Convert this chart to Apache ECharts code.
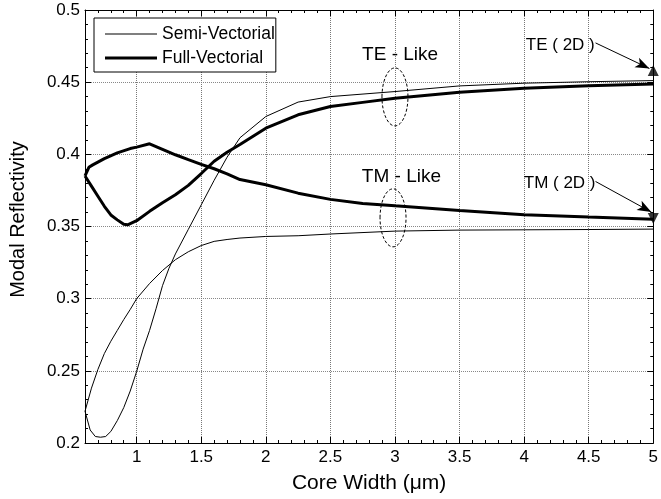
<!DOCTYPE html>
<html>
<head>
<meta charset="utf-8">
<script src="https://cdn.jsdelivr.net/npm/echarts@6/dist/echarts.min.js"></script>
<style>html,body{margin:0;padding:0;background:#fff}#c{width:661px;height:499px}</style>
</head>
<body>
<div id="c"></div>
<script>
// ---- data (x = core width in µm, y = modal reflectivity) ----
const xTickValues = [1, 1.5, 2, 2.5, 3, 3.5, 4, 4.5, 5];

const semiTE = [[0.6,0.222],[0.64,0.209],[0.68,0.2045],[0.72,0.204],[0.76,0.2045],[0.8,0.208],[0.85,0.2155],[0.9,0.2245],[0.95,0.236],[1.0,0.2496],[1.05,0.265],[1.1,0.278],[1.15,0.293],[1.2,0.309],[1.25,0.321],[1.3,0.331],[1.4,0.348],[1.5,0.365],[1.6,0.382],[1.7,0.398],[1.8,0.4115],[2.0,0.4262],[2.25,0.4362],[2.5,0.4400],[3.0,0.4435],[3.5,0.4474],[4.0,0.4493],[4.5,0.4503],[5.0,0.4511]];
const semiTM = [[0.6,0.222],[0.65,0.238],[0.7,0.251],[0.75,0.262],[0.8,0.2705],[0.85,0.278],[0.9,0.2855],[0.95,0.2925],[1.0,0.300],[1.1,0.3105],[1.2,0.3195],[1.3,0.327],[1.4,0.3325],[1.5,0.3368],[1.6,0.3397],[1.7,0.341],[1.8,0.342],[2.0,0.3431],[2.25,0.3436],[2.5,0.3448],[3.0,0.3468],[3.5,0.3475],[4.0,0.3477],[4.5,0.3479],[5.0,0.3482]];
const fullTE = [[0.6,0.385],[0.65,0.378],[0.7,0.371],[0.75,0.364],[0.8,0.358],[0.85,0.3546],[0.9,0.3515],[0.93,0.3512],[1.0,0.354],[1.1,0.3605],[1.2,0.3665],[1.3,0.372],[1.4,0.3785],[1.5,0.3867],[1.6,0.3952],[1.7,0.4015],[1.8,0.4068],[2.0,0.4181],[2.25,0.4274],[2.5,0.4331],[2.75,0.436],[3.0,0.4389],[3.5,0.443],[4.0,0.4458],[4.5,0.4475],[5.0,0.4488]];
const fullTM = [[0.6,0.385],[0.63,0.391],[0.66,0.3927],[0.75,0.397],[0.85,0.401],[0.95,0.404],[1.0,0.405],[1.1,0.4073],[1.2,0.4035],[1.3,0.3997],[1.4,0.3963],[1.5,0.393],[1.6,0.39],[1.7,0.3865],[1.8,0.3825],[2.0,0.3789],[2.25,0.3731],[2.5,0.3688],[2.75,0.366],[3.0,0.3643],[3.5,0.3611],[4.0,0.3581],[4.5,0.3565],[5.0,0.3551]];
const te2D = [[5, 0.458]];
const tm2D = [[5, 0.3556]];

const legendNames = ['Semi-Vectorial', 'Full-Vectorial'];
const annotTexts = [
  { text: 'TE - Like', at: [3.04, 0.469], size: 19 },
  { text: 'TM - Like', at: [3.05, 0.3845], size: 19 },
  { text: 'TE ( 2D )', at: [4.28, 0.4758], size: 17 },
  { text: 'TM ( 2D )', at: [4.275, 0.3796], size: 17 }
];
const ellipseCenters = [[3.0, 0.4398], [2.985, 0.356]];
const arrows = [
  [[4.553, 0.4772], [4.97, 0.4595]],
  [[4.553, 0.3812], [4.985, 0.3600]]
];

const FONT = '"Liberation Sans", Arial, Helvetica, sans-serif';
const chart = echarts.init(document.getElementById('c'), null, { renderer: 'canvas' });

const baseX = {
  type: 'value', min: 0.6, max: 5, minInterval: 0.5, maxInterval: 0.5,
  axisLine: { show: true, onZero: false, lineStyle: { color: '#000', width: 1 } },
  axisTick: { show: true, inside: true, length: 6, customValues: xTickValues, lineStyle: { color: '#000' } },
  minorTick: { show: true, splitNumber: 5, length: 3, lineStyle: { color: '#000' } }
};
const baseY = {
  type: 'value', min: 0.2, max: 0.5, interval: 0.05,
  axisLine: { show: true, onZero: false, lineStyle: { color: '#000', width: 1 } },
  axisTick: { show: true, inside: true, length: 6, lineStyle: { color: '#000' } },
  minorTick: { show: true, splitNumber: 5, length: 3, lineStyle: { color: '#000' } }
};

const option = {
  animation: false,
  backgroundColor: '#fff',
  grid: { left: 82, right: 4, top: 10, bottom: 56, containLabel: false },
  legend: {
    data: [
      { name: legendNames[0], icon: 'path://M0,0 L52,0 L52,1 L0,1 Z', itemStyle: { color: '#000', borderWidth: 0 } },
      { name: legendNames[1], icon: 'path://M0,0 L52,0 L52,3 L0,3 Z', itemStyle: { color: '#000', borderWidth: 0 } }
    ],
    orient: 'vertical', left: 94, top: 18,
    itemWidth: 52, itemHeight: 14, itemGap: 6, padding: [7, 1, 5, 11],
    borderColor: '#000', borderWidth: 1, backgroundColor: '#fff',
    textStyle: { fontSize: 17.5, color: '#000', fontFamily: FONT },
    selectedMode: false
  },
  xAxis: [
    Object.assign({}, baseX, {
      position: 'bottom',
      axisLabel: { customValues: xTickValues, fontSize: 17, color: '#000', margin: 6, fontFamily: FONT },
      splitLine: { show: true, lineStyle: { color: '#777', width: 1, type: [1, 1] } },
      name: 'Core Width (\u03bcm)', nameLocation: 'middle', nameGap: 30,
      nameTextStyle: { fontSize: 21, color: '#000', fontFamily: FONT }
    }),
    Object.assign({}, baseX, {
      position: 'top', axisLabel: { show: false }, splitLine: { show: false }
    })
  ],
  yAxis: [
    Object.assign({}, baseY, {
      position: 'left',
      axisLabel: { fontSize: 17, color: '#000', margin: 5, fontFamily: FONT },
      splitLine: { show: true, lineStyle: { color: '#888', width: 1, type: [1, 1] } },
      name: 'Modal Reflectivity', nameLocation: 'middle', nameGap: 57, nameRotate: 90,
      nameTextStyle: { fontSize: 20, color: '#000', fontFamily: FONT, padding: [0, 0, 0, 14] }
    }),
    Object.assign({}, baseY, {
      position: 'right', axisLabel: { show: false }, splitLine: { show: false }
    })
  ],
  series: [
    { name: 'Semi-Vectorial', type: 'line', data: semiTE, showSymbol: false, symbol: 'none',
      lineStyle: { color: '#000', width: 1 }, itemStyle: { color: '#000' }, z: 3 },
    { name: 'Semi-Vectorial', type: 'line', data: semiTM, showSymbol: false, symbol: 'none',
      lineStyle: { color: '#000', width: 1 }, itemStyle: { color: '#000' }, z: 3 },
    { name: 'Full-Vectorial', type: 'line', data: fullTE, showSymbol: false, symbol: 'none',
      lineStyle: { color: '#000', width: 3 }, itemStyle: { color: '#000' }, z: 4 },
    { name: 'Full-Vectorial', type: 'line', data: fullTM, showSymbol: false, symbol: 'none',
      lineStyle: { color: '#000', width: 3 }, itemStyle: { color: '#000' }, z: 4 },
    { name: 'TE 2D', type: 'scatter', data: te2D, symbol: 'triangle', symbolSize: [11, 11],
      itemStyle: { color: '#000' }, z: 6,
      markLine: {
        silent: true, symbol: ['none', 'arrow'], symbolSize: [8, 14], animation: false,
        label: { show: false }, lineStyle: { color: '#000', width: 1, type: 'solid' },
        data: arrows.map(a => [{ coord: a[0] }, { coord: a[1] }])
      }
    },
    { name: 'TM 2D', type: 'scatter', data: tm2D, symbol: 'triangle', symbolRotate: 180, symbolSize: [11, 11],
      itemStyle: { color: '#000' }, z: 6 }
  ]
};
chart.setOption(option);

// annotations positioned through the chart's own coordinate conversion
const g = [];
annotTexts.forEach(t => {
  const p = chart.convertToPixel({ gridIndex: 0 }, t.at);
  g.push({ type: 'text', x: p[0], y: p[1], z: 10,
    style: { text: t.text, fontSize: t.size, fontFamily: FONT, fill: '#000', align: 'center', verticalAlign: 'middle' } });
});
ellipseCenters.forEach(c => {
  const p = chart.convertToPixel({ gridIndex: 0 }, c);
  g.push({ type: 'ellipse', shape: { cx: p[0], cy: p[1], rx: 13, ry: 29 }, z: 10,
    style: { fill: null, stroke: '#000', lineWidth: 1, lineDash: [3, 2] } });
});
chart.setOption({ graphic: g });
</script>
</body>
</html>
